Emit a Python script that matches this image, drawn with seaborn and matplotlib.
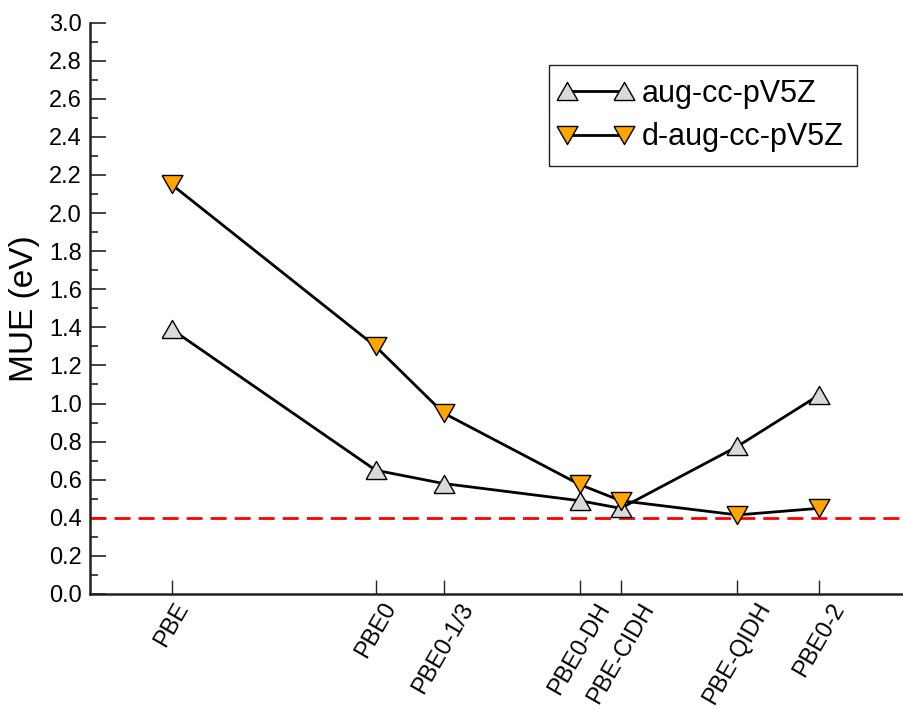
import matplotlib
matplotlib.use("Agg")
import matplotlib.pyplot as plt
from matplotlib.legend_handler import HandlerLine2D
from matplotlib.ticker import MultipleLocator, FormatStrFormatter
import seaborn as sns

# functionals, placed on x by their fraction of exact exchange
functionals = ["PBE", "PBE0", "PBE0-1/3", "PBE0-DH", "PBE-CIDH", "PBE-QIDH", "PBE0-2"]
exx_fraction = [0.0, 0.25, 0.3333, 0.5, 0.5503, 0.6934, 0.7937]

mue_aug = [1.39, 0.65, 0.58, 0.49, 0.45, 0.775, 1.045]
mue_daug = [2.15, 1.30, 0.95, 0.575, 0.49, 0.415, 0.45]

threshold = 0.4

sns.set_theme(style="ticks")
plt.rcParams["font.family"] = ["Liberation Sans", "DejaVu Sans"]
plt.rcParams["lines.scale_dashes"] = False
for key in ["text.color", "axes.labelcolor", "xtick.color", "ytick.color"]:
    plt.rcParams[key] = "black"

tri_up = [(-1, -0.866), (1, -0.866), (0, 0.866), (-1, -0.866)]
tri_down = [(-1, 0.866), (1, 0.866), (0, -0.866), (-1, 0.866)]

fig = plt.figure(figsize=(9.04, 7.09), dpi=100)
ax = fig.add_axes([90 / 904, 115 / 709, 816 / 904, 571.4 / 709])

ax.axhline(threshold, color="red", lw=2, dashes=(11.5, 5.8), zorder=1)

sns.lineplot(x=exx_fraction, y=mue_aug, ax=ax, color="black", lw=2,
             marker=tri_up, markersize=15, markerfacecolor="#d9d9d9",
             markeredgecolor="black", markeredgewidth=1, label="aug-cc-pV5Z")
sns.lineplot(x=exx_fraction, y=mue_daug, ax=ax, color="black", lw=2,
             marker=tri_down, markersize=15, markerfacecolor="#ffa500",
             markeredgecolor="black", markeredgewidth=1, label="d-aug-cc-pV5Z")

ax.set_xlim(-0.1, 0.9)
ax.set_ylim(0, 3.0)

ax.set_xticks(exx_fraction)
ax.set_xticklabels(functionals, rotation=60, fontsize=17)
ax.yaxis.set_major_locator(MultipleLocator(0.2))
ax.yaxis.set_minor_locator(MultipleLocator(0.1))
ax.yaxis.set_major_formatter(FormatStrFormatter("%.1f"))
ax.tick_params(axis="y", which="major", direction="in", length=11.5, width=1.2,
               labelsize=17, pad=6, color="#222222")
ax.tick_params(axis="y", which="minor", direction="in", length=5.5, width=1.2,
               color="#222222")
ax.tick_params(axis="x", which="major", direction="in", length=10, width=1,
               pad=3.5, color="#222222")

ax.set_xlabel("")
ax.set_ylabel("MUE (eV)", fontsize=24, labelpad=6)

for side in ["top", "right"]:
    ax.spines[side].set_visible(False)
for side in ["left", "bottom"]:
    ax.spines[side].set_linewidth(1.8)
    ax.spines[side].set_color("#222222")

handles, labels = ax.get_legend_handles_labels()
leg = ax.legend(handles, labels, loc="upper right", bbox_to_anchor=(0.940, 0.926),
                borderaxespad=0, fontsize=22, handlelength=2.17, handletextpad=0.42,
                labelspacing=0.45, borderpad=0.45, fancybox=False, framealpha=1,
                edgecolor="#222222",
                handler_map={h: HandlerLine2D(numpoints=2, marker_pad=0.14) for h in handles})
leg.get_frame().set_linewidth(1.0)

fig.savefig("out.png", dpi=100)
